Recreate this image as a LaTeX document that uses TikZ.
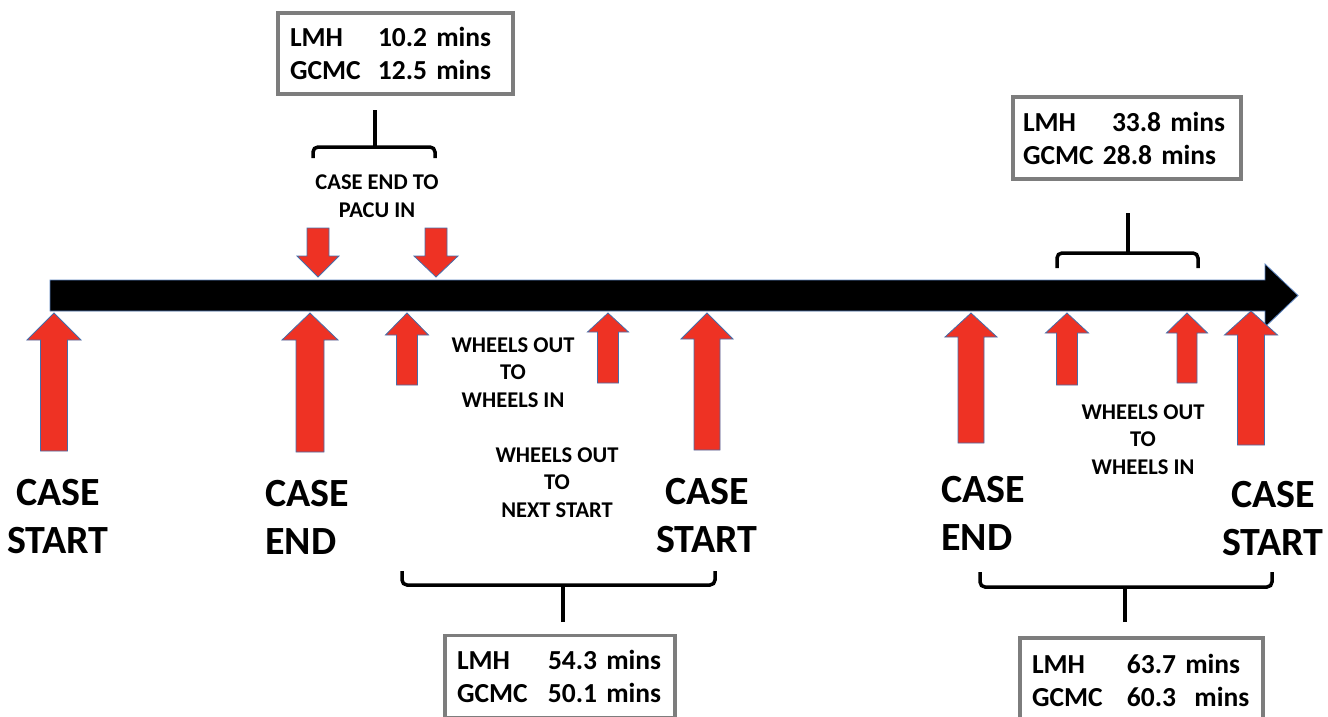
\documentclass[tikz,border=0pt]{standalone}
\usepackage{fontspec}
\setmainfont{Carlito}
\definecolor{arrred}{RGB}{238,50,36}
\definecolor{arredge}{RGB}{70,110,170}
\definecolor{baredge}{RGB}{90,130,190}
\definecolor{boxgray}{RGB}{125,125,125}
\tikzset{
  redarr/.style={fill=arrred, draw=arredge, line width=0.8pt, line join=miter},
  bigtxt/.style={font=\fontsize{40}{48}\selectfont\bfseries, inner sep=0pt},
  midtxt/.style={font=\fontsize{22.5}{27.5}\selectfont\bfseries, align=center, inner sep=0pt},
  valbox/.style={draw=boxgray, line width=3.2pt, rectangle, inner xsep=0pt, inner ysep=0pt,
    font=\fontsize{27.5}{33}\selectfont\bfseries, align=left},
  bracket/.style={line width=3.5pt, rounded corners=5pt, line cap=butt},
  stem/.style={line width=3.5pt}
}
\newcommand\redup[6]{% x tip base bottom headhalf shafthalf
  \draw[redarr] (#1,#2) -- ({#1+#5},#3) -- ({#1+#6},#3) -- ({#1+#6},#4) -- ({#1-#6},#4) -- ({#1-#6},#3) -- ({#1-#5},#3) -- cycle;}
\newcommand\bxrow[3]{\makebox[#1pt][l]{#2}#3}
\begin{document}
\begin{tikzpicture}[x=1pt,y=-1pt]
\useasboundingbox (0,0) rectangle (1328,717);
% timeline bar
\draw[draw=baredge, fill=black, line width=0.8pt] (50,280) -- (1265,280) -- (1265,264) -- (1298,295.5) -- (1265,327) -- (1265,311) -- (50,311) -- cycle;
% down arrows
\redup{318}{277}{256}{228}{21}{11}
\redup{436}{277}{256}{228}{22}{11}
% up arrows
\redup{54}{313}{340}{451}{27}{13.5}
\redup{310}{313}{340}{452}{28}{14}
\redup{407}{313}{335}{385}{21.5}{10.5}
\redup{608}{313}{332}{383}{20.5}{10.5}
\redup{707}{313}{339}{450}{26}{13}
\redup{971}{313}{337}{443}{26}{13}
\redup{1067}{313}{333}{385}{21.5}{10.5}
\redup{1187}{313}{333}{383}{20.5}{10}
\redup{1251}{311}{335}{445}{26.5}{13.5}
% big labels
\node[bigtxt, align=center] (cs1) at (58,517) {CASE\\START};
\node[bigtxt, align=left, anchor=west] (ce1) at (265,517) {CASE\\END};
\node[bigtxt, align=center] (cs2) at (707,516) {CASE\\START};
\node[bigtxt, align=left, anchor=west] (ce2) at (941,513) {CASE\\END};
\node[bigtxt, align=center] (cs3) at (1273,519) {CASE\\START};
% interval labels
\node[midtxt] (pacu) at (377,196) {CASE END TO\\PACU IN};
\node[midtxt] (wow1) at (513,372.5) {WHEELS OUT\\TO\\WHEELS IN};
\node[midtxt] (wons) at (557,482.5) {WHEELS OUT\\TO\\NEXT START};
\node[midtxt] (wow2) at (1143,439.5) {WHEELS OUT\\TO\\WHEELS IN};
% value boxes
\node[valbox, minimum width=235pt, minimum height=81pt, text width=211pt, inner xsep=12pt] (b1) at (395.5,53.5)
  {\bxrow{88}{LMH}{10.2 mins}\\\bxrow{88}{GCMC}{12.5 mins}};
\node[valbox, minimum width=228pt, minimum height=82pt, text width=208pt, inner xsep=10pt] (b2) at (1127,138)
  {\bxrow{89}{LMH}{33.8 mins}\\\bxrow{80}{GCMC}{28.8 mins}};
\node[valbox, minimum width=230pt, minimum height=82pt, text width=206pt, inner xsep=12pt] (b3) at (560,676.5)
  {\bxrow{91}{LMH}{54.3 mins}\\\bxrow{91}{GCMC}{50.1 mins}};
\node[valbox, minimum width=243pt, minimum height=84pt, text width=219pt, inner xsep=12pt] (b4) at (1141.5,680)
  {\bxrow{95}{LMH}{63.7 mins}\\\bxrow{95}{GCMC}{60.3\ \ mins}};
% braces
\coordinate (t1) at (375,110);
\coordinate (t2) at (1128,213);
\coordinate (u1) at (563,622);
\coordinate (u2) at (1125,622);
\draw[bracket] (313,158) -- (313,147) -- (435,147) -- (435,158);
\draw[stem] (t1) -- (375,147);
\draw[bracket] (1057,268) -- (1057,253) -- (1198,253) -- (1198,268);
\draw[stem] (t2) -- (1128,253);
\draw[bracket] (402,571) -- (402,585) -- (715,585) -- (715,571);
\draw[stem] (u1) -- (563,585);
\draw[bracket] (980,572) -- (980,587) -- (1272,587) -- (1272,572);
\draw[stem] (u2) -- (1125,587);
\end{tikzpicture}
\end{document}
